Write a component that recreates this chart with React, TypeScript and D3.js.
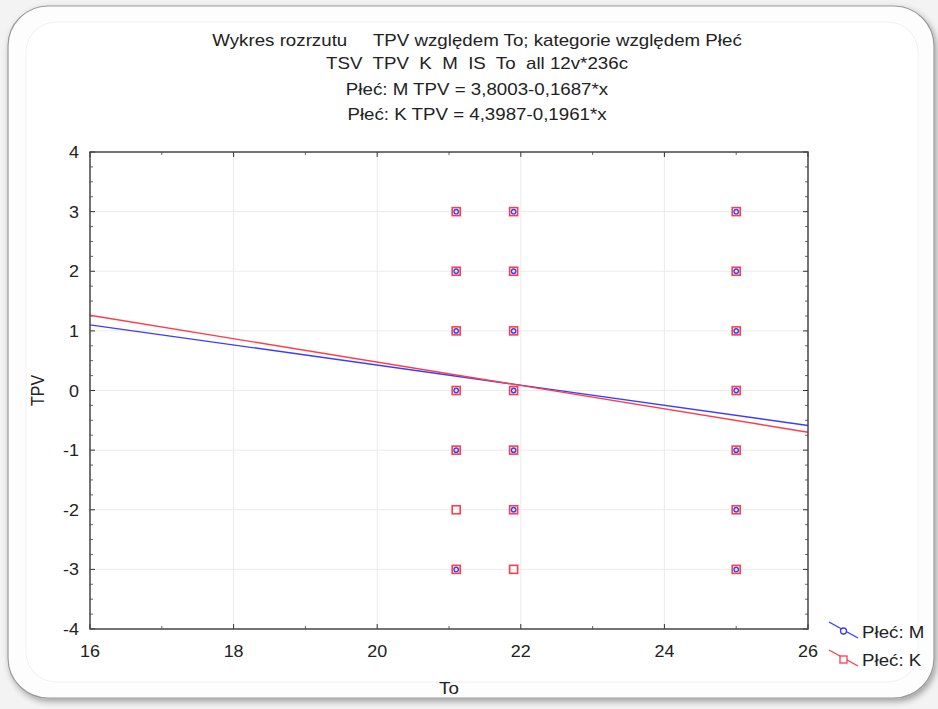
import React from 'react';
import * as d3 from 'd3';

const titleLines = [
  'Wykres rozrzutu     TPV względem To; kategorie względem Płeć',
  'TSV  TPV  K  M  IS  To  all 12v*236c',
  'Płeć: M TPV = 3,8003-0,1687*x',
  'Płeć: K TPV = 4,3987-0,1961*x',
];

const xTicks = [16, 18, 20, 22, 24, 26];
const yTicks = [-4, -3, -2, -1, 0, 1, 2, 3, 4];

// points of group M (blue circles)
const mX = [21.1, 21.1, 21.1, 21.1, 21.1, 21.1, 21.9, 21.9, 21.9, 21.9, 21.9, 21.9, 25, 25, 25, 25, 25, 25, 25];
const mY = [3, 2, 1, 0, -1, -3, 3, 2, 1, 0, -1, -2, 3, 2, 1, 0, -1, -2, -3];
// points of group K (red squares)
const kX = [21.1, 21.1, 21.1, 21.1, 21.1, 21.1, 21.1, 21.9, 21.9, 21.9, 21.9, 21.9, 21.9, 21.9, 25, 25, 25, 25, 25, 25, 25];
const kY = [3, 2, 1, 0, -1, -2, -3, 3, 2, 1, 0, -1, -2, -3, 3, 2, 1, 0, -1, -2, -3];

const mFit = { a: 3.8003, b: -0.1687 };
const kFit = { a: 4.3987, b: -0.1961 };

const W = 938;
const H = 709;
const margin = { top: 152, right: 130, bottom: 80, left: 90 };
const font = 'Liberation Sans, Arial, sans-serif';
const blue = '#3c3cff';
const red = '#ff3c4a';
const ink = '#222';

// the source picture is slightly stretched horizontally
function T({ x, y, size = 16, sx = 1.17, anchor = 'start', children }: any) {
  return (
    <text
      transform={`translate(${x},${y}) scale(${sx},1)`}
      textAnchor={anchor}
      fontSize={size}
      fill={ink}
      style={{ whiteSpace: 'pre' }}
    >
      {children}
    </text>
  );
}

export default function App() {
  const x = d3.scaleLinear().domain([16, 26]).range([margin.left, W - margin.right]);
  const y = d3.scaleLinear().domain([-4, 4]).range([H - margin.bottom, margin.top]);
  const [x0, x1] = x.range();
  const [y0, y1] = y.range();

  const xMinor = d3.range(17, 26, 2);
  const yMinor = d3.range(-4, 4.001, 0.25).filter((v) => !Number.isInteger(v));

  const fitLine = (f: { a: number; b: number }) =>
    d3.line<number>().x((v) => x(v)).y((v) => y(f.a + f.b * v))([16, 26]) || '';

  const tickLen = 5;
  const minorLen = 3;
  const titleY = [46, 69, 95, 120];

  return (
    <svg width={W} height={H} style={{ position: 'absolute', left: 0, top: 0 }} fontFamily={font}>
      <defs>
        <filter id="sh" x="-5%" y="-5%" width="110%" height="110%">
          <feDropShadow dx="2" dy="3" stdDeviation="3" floodColor="#000" floodOpacity="0.35" />
        </filter>
      </defs>
      <rect width={W} height={H} fill="#f3f3f3" />
      <rect x={8} y={6} width={926} height={692} rx={40} fill="#fdfdfd" stroke="#9a9a9a" strokeWidth={1.2} filter="url(#sh)" />
      <rect x={26} y={22} width={892} height={660} rx={30} fill="#ffffff" stroke="#f0f0f0" />

      {titleLines.map((t, i) => (
        <T key={i} x={477} y={titleY[i]} anchor="middle">
          {t}
        </T>
      ))}

      {/* grid */}
      {xTicks.slice(1, -1).map((t) => (
        <line key={'gx' + t} x1={x(t)} x2={x(t)} y1={y0} y2={y1} stroke="#ebebeb" />
      ))}
      {yTicks.slice(1, -1).map((t) => (
        <line key={'gy' + t} x1={x0} x2={x1} y1={y(t)} y2={y(t)} stroke="#ebebeb" />
      ))}

      {/* ticks, inward on all four sides */}
      {xTicks.map((t) => (
        <g key={'tx' + t} stroke="#333">
          <line x1={x(t)} x2={x(t)} y1={y0} y2={y0 - tickLen} />
          <line x1={x(t)} x2={x(t)} y1={y1} y2={y1 + tickLen} />
        </g>
      ))}
      {xMinor.map((t) => (
        <g key={'mx' + t} stroke="#666">
          <line x1={x(t)} x2={x(t)} y1={y0} y2={y0 - minorLen} />
          <line x1={x(t)} x2={x(t)} y1={y1} y2={y1 + minorLen} />
        </g>
      ))}
      {yTicks.map((t) => (
        <g key={'ty' + t} stroke="#333">
          <line x1={x0} x2={x0 + tickLen} y1={y(t)} y2={y(t)} />
          <line x1={x1} x2={x1 - tickLen} y1={y(t)} y2={y(t)} />
        </g>
      ))}
      {yMinor.map((t) => (
        <g key={'my' + t} stroke="#666">
          <line x1={x0} x2={x0 + minorLen} y1={y(t)} y2={y(t)} />
          <line x1={x1} x2={x1 - minorLen} y1={y(t)} y2={y(t)} />
        </g>
      ))}

      {/* fitted lines */}
      <path d={fitLine(mFit)} fill="none" stroke={blue} strokeWidth={1.4} />
      <path d={fitLine(kFit)} fill="none" stroke={red} strokeWidth={1.4} />

      {/* points */}
      {kX.map((v, i) => (
        <rect key={'k' + i} x={x(v) - 4} y={y(kY[i]) - 4} width={8} height={8} fill="none" stroke={red} strokeWidth={1.6} />
      ))}
      {mX.map((v, i) => (
        <circle key={'m' + i} cx={x(v)} cy={y(mY[i])} r={2.2} fill="none" stroke={blue} strokeWidth={1.4} />
      ))}

      {/* frame */}
      <rect x={x0} y={y1} width={x1 - x0} height={y0 - y1} fill="none" stroke="#444" strokeWidth={1.5} />

      {/* tick labels */}
      {xTicks.map((t) => (
        <T key={'lx' + t} x={x(t)} y={y0 + 28} size={16} sx={1.12} anchor="middle">
          {t}
        </T>
      ))}
      {yTicks.map((t) => (
        <T key={'ly' + t} x={x0 - 11} y={y(t) + 6} size={16} sx={1.12} anchor="end">
          {t}
        </T>
      ))}

      <T x={(x0 + x1) / 2} y={H - 15} anchor="middle">
        To
      </T>
      <text transform={`translate(44,${(y0 + y1) / 2}) rotate(-90) scale(1,1.17)`} textAnchor="middle" fontSize={16} fill={ink}>
        TPV
      </text>

      {/* legend */}
      <g>
        <line x1={829} y1={622} x2={858} y2={638} stroke={blue} strokeWidth={1.3} />
        <circle cx={843.5} cy={631} r={3} fill="#fff" stroke={blue} strokeWidth={1.3} />
        <T x={862} y={638}>Płeć: M</T>
        <line x1={829} y1={650} x2={858} y2={666} stroke={red} strokeWidth={1.3} />
        <rect x={840} y={656} width={7} height={7} fill="#fff" stroke={red} strokeWidth={1.3} />
        <T x={862} y={666}>Płeć: K</T>
      </g>
    </svg>
  );
}
